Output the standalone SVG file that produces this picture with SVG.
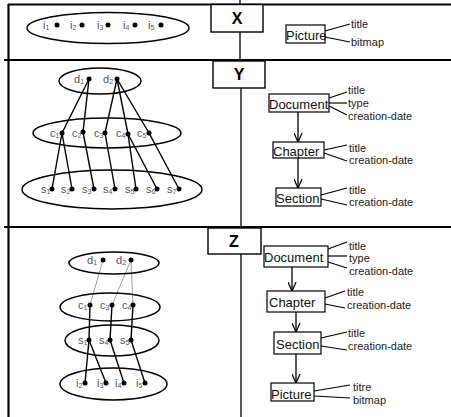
<svg xmlns="http://www.w3.org/2000/svg" width="451" height="417" viewBox="0 0 451 417">
<style>
.band{stroke:#000;stroke-width:2.2;fill:none}
.div{stroke:#000;stroke-width:1.3;fill:none}
.ell{stroke:#000;stroke-width:1.5;fill:none}
.box{stroke:#000;stroke-width:1.2;fill:#fff}
.lbl{stroke:#000;stroke-width:1.4;fill:#fff}
.c{stroke:#000;stroke-width:1.4;fill:none}
.thin{stroke:#777;stroke-width:0.7;fill:none}
.att{stroke:#000;stroke-width:1.2;fill:none}
.arr{stroke:#000;stroke-width:1.3;fill:none;marker-end:url(#ah)}
.dot{fill:#000}
.sub{font-family:"Liberation Sans",Arial,sans-serif;font-size:11px;fill:#555}
.ent{font-family:"Liberation Sans",Arial,sans-serif;font-size:13px;fill:#111}
.at{font-family:"Liberation Sans",Arial,sans-serif;font-size:11px;fill:#222}
.big{font-family:"Liberation Sans",Arial,sans-serif;font-size:16px;font-weight:bold;fill:#000;text-anchor:middle}
</style>
<defs>
<marker id="ah" viewBox="0 0 10 10" refX="10" refY="5" markerWidth="9" markerHeight="9" markerUnits="userSpaceOnUse" orient="auto">
<path d="M0,0.5 L10,5 L0,9.5" fill="none" stroke="#000" stroke-width="1.4"/>
</marker>
</defs>
<rect width="451" height="417" fill="#fff"/>
<g id="frame">
<line class="band" x1="8" y1="4.5" x2="451" y2="4.5"/>
<line class="band" x1="4" y1="60" x2="451" y2="60"/>
<line class="band" x1="4" y1="227" x2="451" y2="227"/>
<line class="band" x1="8.5" y1="4" x2="8.5" y2="417"/>
<line class="div" x1="240" y1="0" x2="240" y2="4"/>
<line class="div" x1="240" y1="32" x2="240" y2="60"/>
<line class="div" x1="241" y1="88" x2="241" y2="227"/>
<line class="div" x1="241" y1="254" x2="241" y2="417"/>
</g>
<g id="label-X"><rect class="lbl" x="211" y="4.5" width="52" height="27.5"/><text class="big" x="237" y="24">X</text></g>
<g id="label-Y"><rect class="lbl" x="213" y="61" width="52" height="27"/><text class="big" x="239" y="80">Y</text></g>
<g id="label-Z"><rect class="lbl" x="208" y="228" width="53" height="26"/><text class="big" x="234" y="247">Z</text></g>

<g id="connectors">
<line class="c" x1="89" y1="79" x2="62" y2="133"/>
<line class="c" x1="89" y1="79" x2="83" y2="132"/>
<line class="c" x1="117" y1="79" x2="105" y2="133"/>
<line class="c" x1="117" y1="79" x2="128" y2="134"/>
<line class="c" x1="117" y1="79" x2="149" y2="133"/>
<line class="c" x1="62" y1="133" x2="52" y2="189"/>
<line class="c" x1="62" y1="133" x2="72" y2="189"/>
<line class="c" x1="83" y1="132" x2="94" y2="189"/>
<line class="c" x1="105" y1="133" x2="115" y2="189"/>
<line class="c" x1="128" y1="134" x2="136" y2="189"/>
<line class="c" x1="128" y1="134" x2="157" y2="189"/>
<line class="c" x1="149" y1="133" x2="179" y2="189"/>
<line class="thin" x1="103" y1="260" x2="90" y2="305"/>
<line class="thin" x1="131" y1="260" x2="112" y2="305"/>
<line class="thin" x1="131" y1="260" x2="133" y2="305"/>
<line class="c" x1="90" y1="305" x2="89" y2="340"/>
<line class="c" x1="112" y1="305" x2="110" y2="340"/>
<line class="c" x1="133" y1="305" x2="131" y2="340"/>
<line class="c" x1="89" y1="340" x2="85" y2="383"/>
<line class="c" x1="89" y1="340" x2="106" y2="383"/>
<line class="c" x1="110" y1="340" x2="124" y2="383"/>
<line class="c" x1="131" y1="340" x2="145" y2="383"/>
<line class="att" x1="325" y1="31" x2="350" y2="24"/>
<line class="att" x1="325" y1="37" x2="350" y2="42"/>
<line class="att" x1="329" y1="98" x2="347" y2="92"/>
<line class="att" x1="329" y1="103" x2="347" y2="103"/>
<line class="att" x1="329" y1="106" x2="347" y2="115"/>
<line class="arr" x1="298" y1="112" x2="298" y2="142"/>
<line class="att" x1="324" y1="150" x2="347" y2="145"/>
<line class="att" x1="324" y1="153" x2="347" y2="161"/>
<line class="arr" x1="298" y1="158" x2="298" y2="188"/>
<line class="att" x1="321" y1="195" x2="347" y2="188"/>
<line class="att" x1="321" y1="199" x2="347" y2="205"/>
<line class="att" x1="328" y1="249" x2="347" y2="242"/>
<line class="att" x1="328" y1="256" x2="347" y2="256"/>
<line class="att" x1="328" y1="262" x2="347" y2="268"/>
<line class="arr" x1="292" y1="267" x2="292" y2="291"/>
<line class="att" x1="325" y1="298" x2="345" y2="291"/>
<line class="att" x1="325" y1="304" x2="345" y2="308"/>
<line class="arr" x1="296" y1="312" x2="296" y2="332"/>
<line class="att" x1="321" y1="338" x2="347" y2="332"/>
<line class="att" x1="321" y1="346" x2="347" y2="350"/>
<line class="arr" x1="296" y1="354" x2="296" y2="383"/>
<line class="att" x1="314" y1="391" x2="350" y2="385"/>
<line class="att" x1="314" y1="396" x2="350" y2="398"/>
</g>

<g id="X-instances">
<ellipse class="ell" cx="108" cy="28" rx="81" ry="15.5"/>
<circle class="dot" cx="57" cy="25" r="2.5"/><text class="sub" x="43" y="29">i<tspan font-size="7" dy="1">1</tspan></text>
<circle class="dot" cx="82" cy="25" r="2.5"/><text class="sub" x="70" y="29">i<tspan font-size="7" dy="1">2</tspan></text>
<circle class="dot" cx="108" cy="25" r="2.5"/><text class="sub" x="97" y="29">i<tspan font-size="7" dy="1">3</tspan></text>
<circle class="dot" cx="135" cy="25" r="2.5"/><text class="sub" x="123" y="29">i<tspan font-size="7" dy="1">4</tspan></text>
<circle class="dot" cx="161" cy="25" r="2.5"/><text class="sub" x="148" y="29">i<tspan font-size="7" dy="1">5</tspan></text>
</g>

<g id="Y-documents">
<ellipse class="ell" cx="100" cy="81" rx="41" ry="13"/>
<circle class="dot" cx="89" cy="79" r="2.5"/><text class="sub" x="74" y="83">d<tspan font-size="7" dy="1">1</tspan></text>
<circle class="dot" cx="117" cy="79" r="2.5"/><text class="sub" x="103" y="83">d<tspan font-size="7" dy="1">2</tspan></text>
</g>
<g id="Y-chapters">
<ellipse class="ell" cx="107" cy="133" rx="74" ry="15"/>
<circle class="dot" cx="62" cy="133" r="2.5"/><text class="sub" x="50" y="137">c<tspan font-size="7" dy="1">1</tspan></text>
<circle class="dot" cx="83" cy="132" r="2.5"/><text class="sub" x="72" y="137">c<tspan font-size="7" dy="1">2</tspan></text>
<circle class="dot" cx="105" cy="133" r="2.5"/><text class="sub" x="94" y="137">c<tspan font-size="7" dy="1">3</tspan></text>
<circle class="dot" cx="128" cy="134" r="2.5"/><text class="sub" x="116" y="137">c<tspan font-size="7" dy="1">4</tspan></text>
<circle class="dot" cx="149" cy="133" r="2.5"/><text class="sub" x="137" y="137">c<tspan font-size="7" dy="1">5</tspan></text>
</g>
<g id="Y-sections">
<ellipse class="ell" cx="112" cy="189.5" rx="90" ry="19.5"/>
<circle class="dot" cx="52" cy="189" r="2.5"/><text class="sub" x="41" y="193">s<tspan font-size="7" dy="1">1</tspan></text>
<circle class="dot" cx="72" cy="189" r="2.5"/><text class="sub" x="61" y="193">s<tspan font-size="7" dy="1">2</tspan></text>
<circle class="dot" cx="94" cy="189" r="2.5"/><text class="sub" x="82" y="193">s<tspan font-size="7" dy="1">3</tspan></text>
<circle class="dot" cx="115" cy="189" r="2.5"/><text class="sub" x="103" y="193">s<tspan font-size="7" dy="1">4</tspan></text>
<circle class="dot" cx="136" cy="189" r="2.5"/><text class="sub" x="125" y="193">s<tspan font-size="7" dy="1">5</tspan></text>
<circle class="dot" cx="157" cy="189" r="2.5"/><text class="sub" x="146" y="193">s<tspan font-size="7" dy="1">6</tspan></text>
<circle class="dot" cx="179" cy="189" r="2.5"/><text class="sub" x="167" y="193">s<tspan font-size="7" dy="1">7</tspan></text>
</g>

<g id="Z-documents">
<ellipse class="ell" cx="114" cy="263" rx="45" ry="11"/>
<circle class="dot" cx="103" cy="260" r="2.5"/><text class="sub" x="87" y="264">d<tspan font-size="7" dy="1">1</tspan></text>
<circle class="dot" cx="131" cy="260" r="2.5"/><text class="sub" x="116" y="264">d<tspan font-size="7" dy="1">2</tspan></text>
</g>
<g id="Z-chapters">
<ellipse class="ell" cx="110" cy="307" rx="50" ry="14"/>
<circle class="dot" cx="90" cy="305" r="2.5"/><text class="sub" x="78" y="309">c<tspan font-size="7" dy="1">1</tspan></text>
<circle class="dot" cx="112" cy="305" r="2.5"/><text class="sub" x="100" y="309">c<tspan font-size="7" dy="1">3</tspan></text>
<circle class="dot" cx="133" cy="305" r="2.5"/><text class="sub" x="122" y="309">c<tspan font-size="7" dy="1">4</tspan></text>
</g>
<g id="Z-sections">
<ellipse class="ell" cx="112" cy="340.5" rx="47" ry="15.5"/>
<circle class="dot" cx="89" cy="340" r="2.5"/><text class="sub" x="78" y="344">s<tspan font-size="7" dy="1">1</tspan></text>
<circle class="dot" cx="110" cy="340" r="2.5"/><text class="sub" x="99" y="344">s<tspan font-size="7" dy="1">4</tspan></text>
<circle class="dot" cx="131" cy="340" r="2.5"/><text class="sub" x="120" y="344">s<tspan font-size="7" dy="1">5</tspan></text>
</g>
<g id="Z-pictures">
<ellipse class="ell" cx="113.5" cy="384" rx="53.5" ry="16"/>
<circle class="dot" cx="85" cy="383" r="2.5"/><text class="sub" x="76" y="387">i<tspan font-size="7" dy="1">2</tspan></text>
<circle class="dot" cx="106" cy="383" r="2.5"/><text class="sub" x="97" y="387">i<tspan font-size="7" dy="1">3</tspan></text>
<circle class="dot" cx="124" cy="383" r="2.5"/><text class="sub" x="115" y="387">i<tspan font-size="7" dy="1">4</tspan></text>
<circle class="dot" cx="145" cy="383" r="2.5"/><text class="sub" x="136" y="387">i<tspan font-size="7" dy="1">5</tspan></text>
</g>

<g id="X-Picture">
<rect class="box" x="286" y="25" width="39" height="18"/>
<text class="ent" x="286" y="40" font-size="14">Picture</text>
<text class="at" x="351" y="28">title</text>
<text class="at" x="351" y="46">bitmap</text>
</g>

<g id="Y-Document">
<rect class="box" x="269" y="94" width="60" height="18"/>
<text class="ent" x="269" y="109">Document</text>
<text class="at" x="348" y="94">title</text>
<text class="at" x="348" y="107">type</text>
<text class="at" x="348" y="120">creation-date</text>
</g>
<g id="Y-Chapter">
<rect class="box" x="273" y="142" width="51" height="16"/>
<text class="ent" x="273" y="156">Chapter</text>
<text class="at" x="349" y="152">title</text>
<text class="at" x="349" y="164">creation-date</text>
</g>
<g id="Y-Section">
<rect class="box" x="276" y="188" width="45" height="18"/>
<text class="ent" x="276" y="203">Section</text>
<text class="at" x="349" y="194">title</text>
<text class="at" x="349" y="206">creation-date</text>
</g>

<g id="Z-Document">
<rect class="box" x="264" y="246" width="64" height="21"/>
<text class="ent" x="264" y="262" font-size="14">Document</text>
<text class="at" x="349" y="250">title</text>
<text class="at" x="349" y="262">type</text>
<text class="at" x="349" y="275">creation-date</text>
</g>
<g id="Z-Chapter">
<rect class="box" x="267" y="291" width="58" height="21"/>
<text class="ent" x="269" y="307" font-size="14">Chapter</text>
<text class="at" x="347" y="296">title</text>
<text class="at" x="347" y="309">creation-date</text>
</g>
<g id="Z-Section">
<rect class="box" x="274" y="332" width="47" height="22"/>
<text class="ent" x="276" y="349" font-size="14">Section</text>
<text class="at" x="348" y="337">title</text>
<text class="at" x="348" y="350">creation-date</text>
</g>
<g id="Z-Picture">
<rect class="box" x="271" y="383" width="43" height="18"/>
<text class="ent" x="271" y="399" font-size="14">Picture</text>
<text class="at" x="353" y="391">titre</text>
<text class="at" x="353" y="404">bitmap</text>
</g>
</svg>
